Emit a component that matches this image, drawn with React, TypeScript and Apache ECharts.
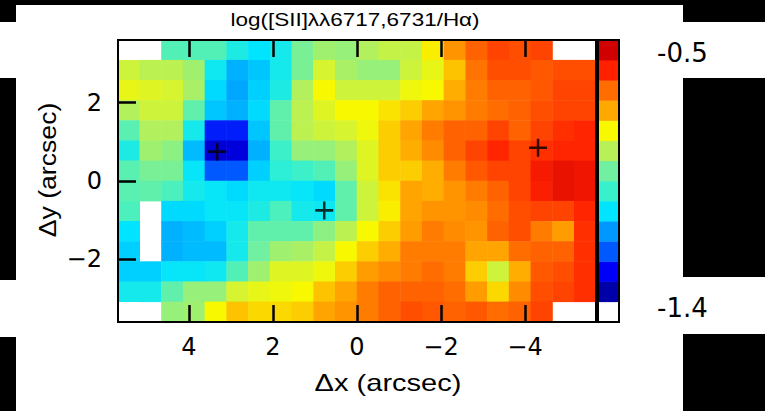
import React, { useEffect, useRef } from 'react';
import * as echarts from 'echarts';

// log([SII]λλ6717,6731/Hα) per spaxel; rows run north (top) to south,
// columns east (left) to west. null = no measurement.
const logSiiHa: (number | null)[][] = [
  [null, null, -0.99, -0.99, -0.99, -1.06, -1.10, -1.07, -0.94, -0.90, -0.91, -0.88, -0.86, -0.86, -0.79, -0.70, -0.64, -0.61, -0.62, -0.61, null, null],
  [-0.85, -0.87, -0.87, -0.90, -1.08, -1.15, -1.13, -1.07, -0.94, -0.84, -0.89, -0.91, -0.91, -0.85, -0.82, -0.75, -0.66, -0.62, -0.62, -0.63, -0.62, -0.62],
  [-0.82, -0.83, -0.84, -0.89, -1.11, -1.16, -1.12, -1.06, -0.88, -0.80, -0.85, -0.85, -0.85, -0.81, -0.80, -0.73, -0.67, -0.64, -0.64, -0.63, -0.61, -0.61],
  [-0.88, -0.85, -0.85, -0.97, -1.13, -1.15, -1.11, -0.97, -0.87, -0.83, -0.80, -0.80, -0.78, -0.76, -0.72, -0.70, -0.67, -0.65, -0.64, -0.62, -0.61, -0.61],
  [-0.98, -0.88, -0.88, -1.07, -1.30, -1.30, -1.13, -0.97, -0.87, -0.85, -0.84, -0.81, -0.76, -0.72, -0.67, -0.64, -0.64, -0.61, -0.64, -0.61, -0.59, -0.58],
  [-1.06, -0.90, -0.92, -1.14, -1.36, -1.35, -1.15, -1.02, -0.91, -0.91, -0.88, -0.83, -0.76, -0.73, -0.69, -0.64, -0.61, -0.58, -0.61, -0.59, -0.58, -0.58],
  [-0.98, -0.94, -0.94, -1.09, -1.25, -1.25, -1.12, -1.04, -1.02, -0.99, -0.91, -0.83, -0.76, -0.76, -0.73, -0.67, -0.63, -0.61, -0.61, -0.56, -0.54, -0.55],
  [-0.98, -0.97, -1.00, -1.07, -1.09, -1.11, -1.08, -1.08, -1.09, -1.11, -0.97, -0.85, -0.78, -0.72, -0.73, -0.70, -0.67, -0.64, -0.61, -0.57, -0.54, -0.55],
  [-1.00, null, -1.11, -1.11, -1.09, -1.09, -1.06, -1.00, -1.07, -1.08, -0.97, -0.85, -0.79, -0.72, -0.70, -0.70, -0.69, -0.65, -0.62, -0.61, -0.61, -0.58],
  [-1.10, null, -1.15, -1.14, -1.12, -1.07, -0.97, -0.97, -0.97, -0.92, -0.87, -0.80, -0.76, -0.71, -0.67, -0.69, -0.70, -0.64, -0.62, -0.67, -0.71, -0.59],
  [-1.12, null, -1.15, -1.14, -1.14, -1.07, -0.95, -0.90, -0.89, -0.86, -0.80, -0.76, -0.73, -0.67, -0.67, -0.67, -0.72, -0.72, -0.65, -0.64, -0.64, -0.59],
  [-1.12, -1.12, -1.09, -1.09, -1.08, -0.99, -0.90, -0.83, -0.83, -0.81, -0.76, -0.71, -0.69, -0.67, -0.65, -0.67, -0.76, -0.85, -0.73, -0.63, -0.62, -0.59],
  [-1.07, -1.07, -0.97, -0.91, -0.91, -0.84, -0.82, -0.81, -0.80, -0.75, -0.72, -0.67, -0.64, -0.64, -0.64, -0.65, -0.71, -0.77, -0.69, -0.62, -0.61, -0.59],
  [null, null, -0.91, -0.90, -0.80, -0.75, -0.77, -0.77, -0.76, -0.72, -0.70, -0.67, -0.64, -0.62, -0.63, -0.64, -0.63, -0.65, -0.64, -0.61, null, null],
];

// half-widths of the field of view, arcsec
const xExtent = 5.69;
const yExtent = 3.6;

const xTicks = [4, 2, 0, -2, -4];
const yTicks = [2, 0, -2];

// colour-bar levels, bottom to top (the lowest slot stays blank)
const barLevels = [-1.4, -1.325, -1.25, -1.175, -1.1, -1.025, -0.95, -0.875, -0.8, -0.725, -0.65, -0.575, -0.5];
const barMin = -1.4;
const barMax = -0.5;

// positions of the marked nuclei, arcsec
const markerDx = [3.33, 0.78, -4.31];
const markerDy = [0.75, -0.75, 0.85];

const palette = [
  '#0000a8', '#0000f8', '#0058ff', '#0098ff', '#00e4ff', '#38f0cc', '#70f0a0',
  '#b8f058', '#f8f800', '#ffa800', '#ff6c00', '#ff2000', '#d00000',
];

const plusSymbol = 'path://M7.75,0H10.25V7.75H18V10.25H10.25V18H7.75V10.25H0V7.75H7.75Z';

const minusLabel = (v: number) => (v < 0 ? '\u2212' + Math.abs(v) : String(v));

const hiddenAxis = () => ({
  axisLine: { show: false, onZero: false },
  axisTick: { show: false },
  axisLabel: { show: false },
  splitLine: { show: false },
});

// frame side carrying inward tick marks at the given values
const framedAxis = (ticks: number[], length: number) => ({
  axisLine: { show: true, onZero: false, lineStyle: { color: '#000', width: 2 } },
  axisTick: { show: true, inside: true, length, customValues: ticks, lineStyle: { color: '#000', width: 2.5 } },
  splitLine: { show: false },
});

export default function App() {
  const ref = useRef<HTMLDivElement>(null);

  useEffect(() => {
    if (!ref.current) return;
    const chart = echarts.init(ref.current, undefined, { renderer: 'svg' });

    const nRows = logSiiHa.length;
    const nCols = logSiiHa[0].length;
    const cells: number[][] = [];
    logSiiHa.forEach((row, r) =>
      row.forEach((v, c) => {
        if (v !== null) cells.push([c, nRows - 1 - r, v]);
      })
    );
    const colNames = Array.from({ length: nCols }, (_, i) => String(i));
    const rowNames = Array.from({ length: nRows }, (_, i) => String(i));
    const barSlots = ['blank', ...barLevels.map((_, i) => String(i))];
    const barCells = barLevels.map((v, i) => [0, i + 1, v]);

    chart.setOption({
      animation: false,
      grid: [
        { left: 118, top: 40, width: 478, height: 282, show: true, backgroundColor: 'transparent', borderColor: '#000', borderWidth: 2, z: 10 },
        { left: 598, top: 40, width: 21, height: 282, show: true, backgroundColor: 'transparent', borderColor: '#000', borderWidth: 2, z: 10 },
      ],
      xAxis: [
        { type: 'category', gridIndex: 0, position: 'bottom', data: colNames, ...hiddenAxis() },
        {
          type: 'value', gridIndex: 0, position: 'bottom', min: -xExtent, max: xExtent, inverse: true, z: 12,
          ...framedAxis(xTicks, 17),
          axisLabel: { customValues: xTicks, formatter: minusLabel, color: '#000', fontFamily: 'DejaVu Sans', fontSize: 24, margin: 13 },
        },
        {
          type: 'value', gridIndex: 0, position: 'top', min: -xExtent, max: xExtent, inverse: true, z: 12,
          ...framedAxis(xTicks, 17),
          axisLabel: { show: false },
        },
        { type: 'category', gridIndex: 1, position: 'bottom', data: ['bar'], ...hiddenAxis() },
      ],
      yAxis: [
        { type: 'category', gridIndex: 0, position: 'left', data: rowNames, ...hiddenAxis() },
        {
          type: 'value', gridIndex: 0, position: 'left', min: -yExtent, max: yExtent, z: 12,
          ...framedAxis(yTicks, 18),
          axisLabel: { customValues: yTicks, formatter: minusLabel, color: '#000', fontFamily: 'DejaVu Sans', fontSize: 24, margin: 16 },
        },
        { type: 'category', gridIndex: 1, position: 'left', data: barSlots, ...hiddenAxis() },
      ],
      visualMap: {
        type: 'continuous',
        show: false,
        min: barMin,
        max: barMax,
        seriesIndex: [0, 1],
        inRange: { color: palette },
      },
      series: [
        { type: 'heatmap', xAxisIndex: 0, yAxisIndex: 0, data: cells },
        { type: 'heatmap', xAxisIndex: 3, yAxisIndex: 2, data: barCells },
        {
          type: 'scatter', xAxisIndex: 1, yAxisIndex: 1, z: 5,
          data: markerDx.map((x, i) => [x, markerDy[i]]),
          symbol: plusSymbol, symbolSize: 18,
          itemStyle: { color: '#000' },
        },
      ],
      graphic: [
        { type: 'rect', shape: { x: 0, y: 0, width: 765, height: 5 }, style: { fill: '#000' } },
        { type: 'rect', shape: { x: 0, y: 0, width: 16, height: 22 }, style: { fill: '#000' } },
        { type: 'rect', shape: { x: 0, y: 78, width: 16, height: 202 }, style: { fill: '#000' } },
        { type: 'rect', shape: { x: 0, y: 337, width: 16, height: 74 }, style: { fill: '#000' } },
        { type: 'rect', shape: { x: 683, y: 0, width: 82, height: 22 }, style: { fill: '#000' } },
        { type: 'rect', shape: { x: 683, y: 78, width: 82, height: 199 }, style: { fill: '#000' } },
        { type: 'rect', shape: { x: 683, y: 334, width: 82, height: 77 }, style: { fill: '#000' } },
        {
          type: 'text', x: 355, y: 20, scaleX: 1.25,
          style: { text: 'log([SII]λλ6717,6731/Hα)', fontFamily: 'Liberation Sans', fontSize: 18, fill: '#000', align: 'center', verticalAlign: 'middle' },
        },
        {
          type: 'text', x: 388, y: 383, scaleX: 1.21,
          style: { text: 'Δx (arcsec)', fontFamily: 'Liberation Sans', fontSize: 24, fill: '#000', align: 'center', verticalAlign: 'middle' },
        },
        {
          type: 'text', x: 47, y: 170, rotation: Math.PI / 2, scaleX: 1.11,
          style: { text: 'Δy (arcsec)', fontFamily: 'Liberation Sans', fontSize: 24, fill: '#000', align: 'center', verticalAlign: 'middle' },
        },
        {
          type: 'text', x: 657, y: 53,
          style: { text: '-0.5', fontFamily: 'DejaVu Sans', fontSize: 26, fill: '#000', align: 'left', verticalAlign: 'middle' },
        },
        {
          type: 'text', x: 657, y: 308,
          style: { text: '-1.4', fontFamily: 'DejaVu Sans', fontSize: 26, fill: '#000', align: 'left', verticalAlign: 'middle' },
        },
      ],
    });

    return () => chart.dispose();
  }, []);

  return (
    <div
      ref={ref}
      style={{ position: 'fixed', left: 0, top: 0, width: 765, height: 411, background: '#fff' }}
    />
  );
}
